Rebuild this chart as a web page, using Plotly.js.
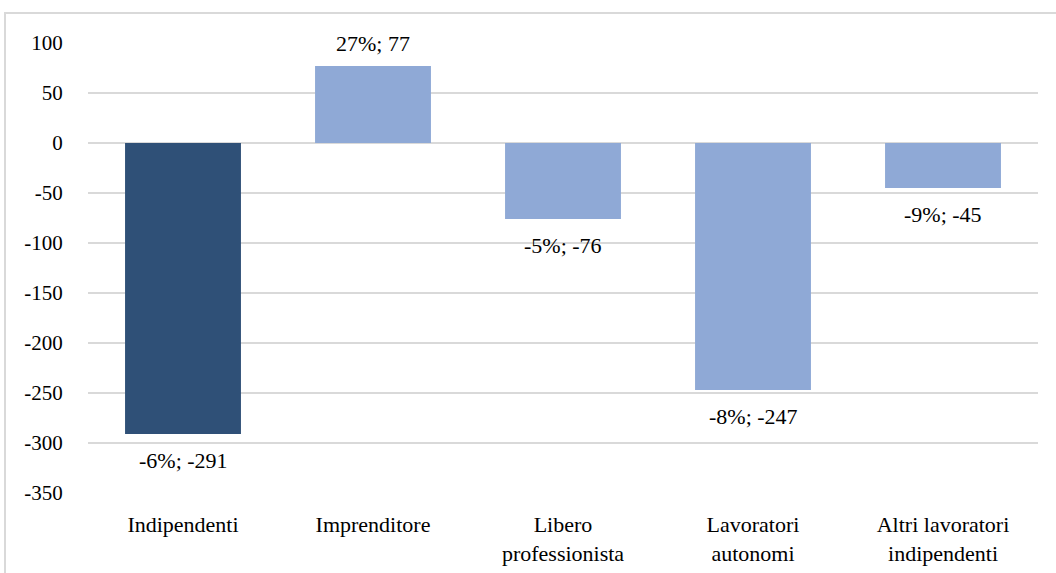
<!DOCTYPE html>
<html>
<head>
<meta charset="utf-8">
<script src="https://cdn.plot.ly/plotly-3.0.1.min.js"></script>
<style>html,body{margin:0;padding:0;background:#fff;}#chart{width:1056px;height:573px;}
#chart svg text{font-family:"Liberation Serif" !important;}</style>
</head>
<body>
<div id="chart"></div>
<script>
const categories = ["Indipendenti", "Imprenditore", "Libero<br>professionista", "Lavoratori<br>autonomi", "Altri lavoratori<br>indipendenti"];
const values = [-291, 77, -76, -247, -45];
const percents = ["-6%", "27%", "-5%", "-8%", "-9%"];
const barColors = ["#2F5077", "#8FA9D6", "#8FA9D6", "#8FA9D6", "#8FA9D6"];
const yTicks = [100, 50, 0, -50, -100, -150, -200, -250, -300, -350];

const labels = values.map((v, i) => percents[i] + "; " + v);

const fontFam = "Liberation Serif";
const fs = 22;

const trace = {
  type: "bar",
  x: categories,
  y: values,
  marker: {color: barColors},
  width: 0.61
};

const annotations = values.map((v, i) => ({
  x: categories[i],
  y: v,
  xref: "x", yref: "y",
  text: labels[i],
  showarrow: false,
  yanchor: "middle",
  yshift: v >= 0 ? 23 : -26,
  font: {family: fontFam, size: fs, color: "#000"}
}));

const layout = {
  width: 1056,
  height: 573,
  margin: {l: 88, r: 18, t: 43, b: 80},
  paper_bgcolor: "#fff",
  plot_bgcolor: "#fff",
  showlegend: false,
  font: {family: fontFam, size: fs, color: "#000"},
  xaxis: {
    type: "category",
    showgrid: false,
    showline: false,
    zeroline: false,
    ticks: "outside",
    ticklen: 12,
    tickcolor: "rgba(0,0,0,0)",
    automargin: false
  },
  yaxis: {
    range: [-350, 100],
    tickvals: yTicks,
    ticktext: yTicks.map(String),
    showgrid: true,
    gridcolor: "#D9D9D9",
    gridwidth: 2,
    zeroline: true,
    zerolinecolor: "#D9D9D9",
    zerolinewidth: 2,
    showline: false,
    ticks: "outside",
    ticklen: 20,
    tickcolor: "rgba(0,0,0,0)",
    tickfont: {size: 21},
    automargin: false
  },
  annotations: annotations,
  shapes: [{
    type: "rect",
    xref: "paper", yref: "paper",
    x0: (5 - 88) / 950, x1: (1070 - 88) / 950,
    y0: (493 - 600) / 450, y1: (493 - 13) / 450,
    line: {color: "#D9D9D9", width: 2},
    fillcolor: "rgba(0,0,0,0)",
    layer: "below"
  }]
};

Plotly.newPlot("chart", [trace], layout, {staticPlot: true}).then(gd => {
  gd.querySelectorAll("svg text").forEach(t => { t.style.fontFamily = '"Liberation Serif"'; });
});
</script>
</body>
</html>
